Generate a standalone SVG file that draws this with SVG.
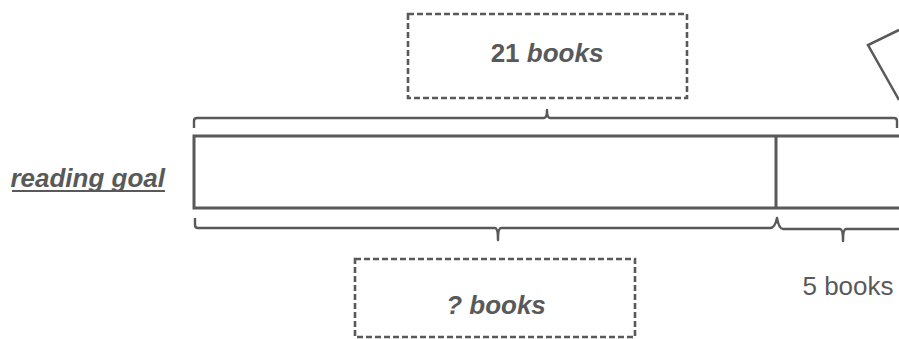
<svg xmlns="http://www.w3.org/2000/svg" width="899" height="339" viewBox="0 0 899 339">
<style>
.t{font-family:"Liberation Sans",Arial,sans-serif;fill:#595959;font-size:26px}
.b{font-weight:bold}
.i{font-style:italic}
.dash{fill:none;stroke:#595959;stroke-width:2.6;stroke-dasharray:6 3}
.br{fill:none;stroke:#595959;stroke-width:2.4;stroke-linejoin:round}
.bar{fill:#ffffff;stroke:#595959;stroke-width:3}
</style>
<rect width="899" height="339" fill="#ffffff"/>
<g id="label-reading-goal">
<text class="t b i" x="165" y="187" text-anchor="end">reading goal</text>
<line x1="12" y1="191" x2="165" y2="191" stroke="#595959" stroke-width="2"/>
</g>
<g id="bar">
<rect class="bar" x="194" y="136" width="720" height="72"/>
<line x1="776" y1="136" x2="776" y2="208" stroke="#595959" stroke-width="3"/>
</g>
<g id="box-21">
<rect class="dash" x="408" y="14" width="279" height="84"/>
<text class="t" x="547" y="62" text-anchor="middle"><tspan class="b">21 </tspan><tspan class="b i">books</tspan></text>
</g>
<g id="box-q">
<rect class="dash" x="355" y="259" width="280" height="78"/>
<text class="t b i" x="496" y="314" text-anchor="middle">? books</text>
</g>
<g id="label-5">
<text class="t" x="848" y="295" text-anchor="middle">5 books</text>
</g>
<g id="shape-corner">
<polyline points="899,30 868,45 899,100" fill="none" stroke="#595959" stroke-width="2.5"/>
</g>
<g id="connectors">
<path class="br" d="M194,128 V121 Q194,118 197,118 H544 Q547,118 547,110 Q547,118 550,118 H894 Q897,118 897,121 V128"/>
<path class="br" d="M195,218 V225 Q195,228 198,228 H495 Q498,228 498,240 Q498,228 501,228 H770 Q775,228 777,218 Q779,229 783,229 H840 Q843,229 843,241 Q843,229 846,229 H899"/>
</g>
</svg>
